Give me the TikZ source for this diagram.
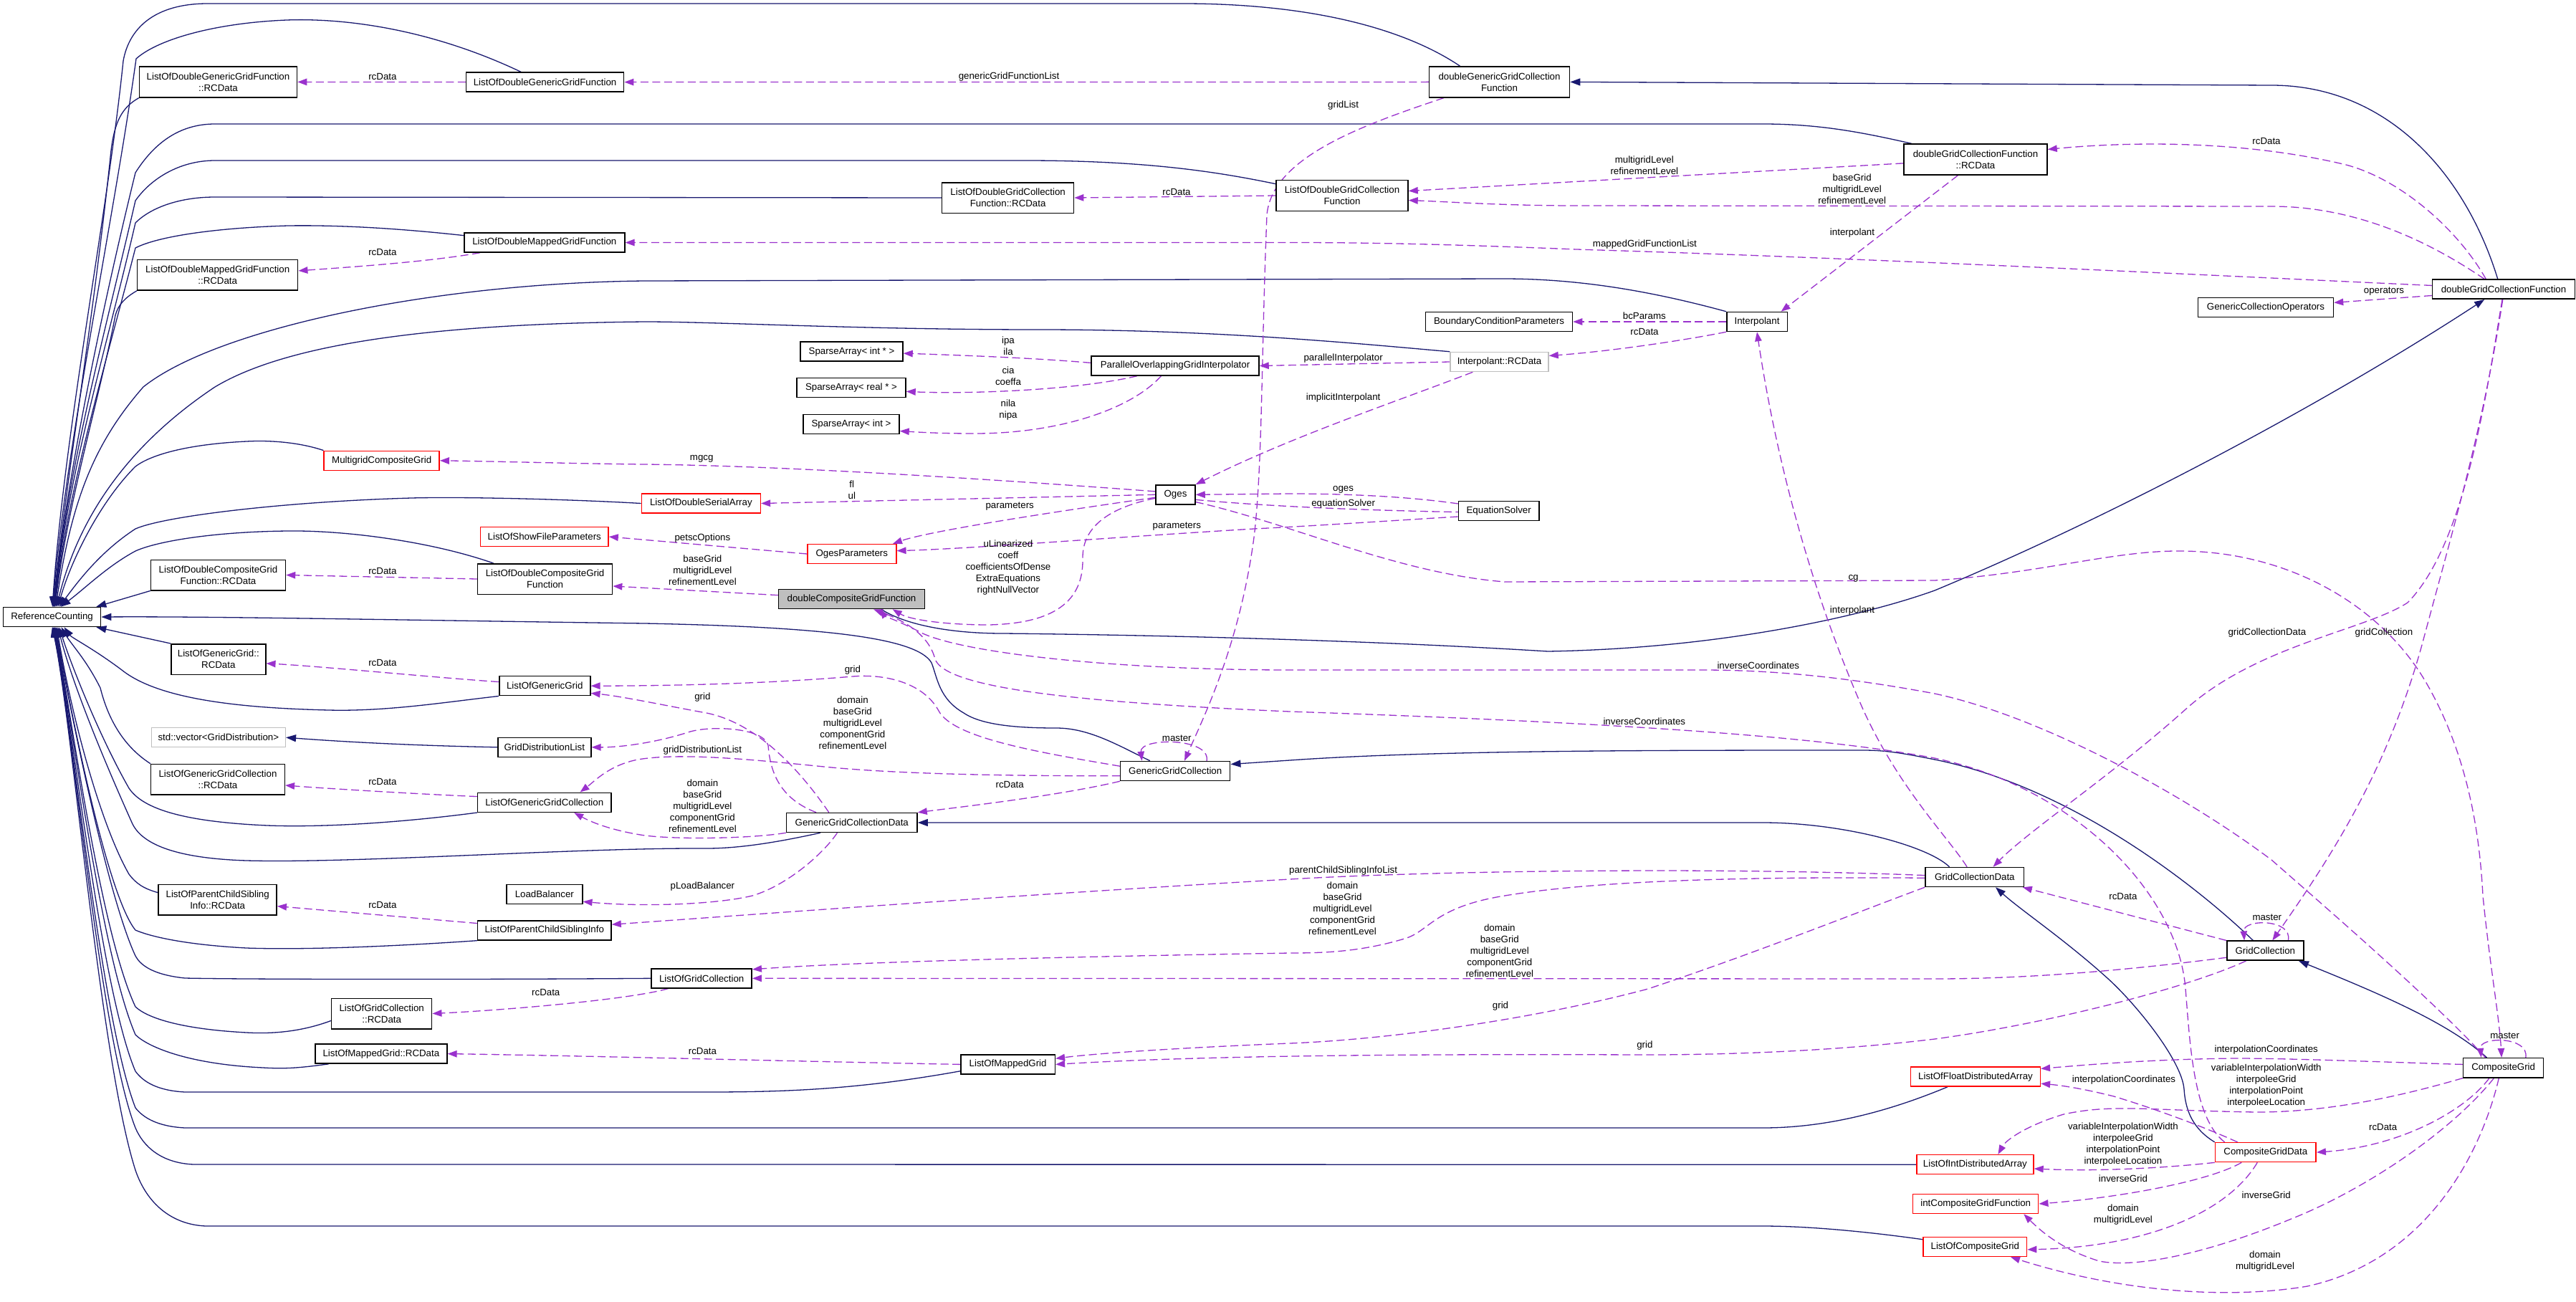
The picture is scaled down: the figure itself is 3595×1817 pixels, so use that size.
\documentclass[tikz,border=0pt]{standalone}
\usepackage{fontspec}
\setmainfont{Liberation Sans}
\usetikzlibrary{arrows.meta}
\definecolor{edgeblue}{HTML}{191970}
\definecolor{edgeorchid}{HTML}{9A32CD}
\definecolor{boxred}{HTML}{FF0000}
\definecolor{boxgrey}{HTML}{BFBFBF}
\newcommand\dxfont{\fontsize{13.3}{16}\selectfont}
\pgfdeclarelayer{back}
\pgfdeclarelayer{edges}
\pgfsetlayers{back,edges,main}
\begin{document}
\begin{tikzpicture}[x=1pt,y=-1pt,
 cls/.style={draw=black,line width=1.5pt,fill=white,font=\dxfont,align=center,inner sep=2pt},
 blackbox/.style={},
 redbox/.style={draw=boxred},
 greybox/.style={draw=boxgrey},
 hilite/.style={fill=boxgrey},
 lab/.style={font=\dxfont,align=center,inner sep=0pt},
 inhedge/.style={draw=edgeblue,line width=1.3pt,-{Triangle[length=14pt,width=10pt]}},
 colledge/.style={draw=edgeorchid,line width=1.3pt,dash pattern=on 11pt off 5.5pt,-{Triangle[length=13pt,width=9.5pt]}}]
\begin{pgfonlayer}{back}
 \path[use as bounding box,fill=white] (0,0) rectangle (3595,1817);
\end{pgfonlayer}
% classes: name/x/y/width/height/style/text
\foreach \nm/\px/\py/\bw/\bh/\bs/\bt in {%
 rc/72.6/861/136/27/blackbox/ReferenceCounting,
 lodggfrc/304.5/114.4/220/43/blackbox/{ListOfDoubleGenericGridFunction\\::RCData},
 lodggf/760.6/114.6/220/27/blackbox/ListOfDoubleGenericGridFunction,
 lodmgf/759.8/338.5/224/27/blackbox/ListOfDoubleMappedGridFunction,
 lodmgfrc/303.7/383.8/224/42.5/blackbox/{ListOfDoubleMappedGridFunction\\::RCData},
 lodgcfrc/1406.6/276/184/42.5/blackbox/{ListOfDoubleGridCollection\\Function::RCData},
 lodgcf/1873/273/184/43/blackbox/{ListOfDoubleGridCollection\\Function},
 spi/1188.5/490.6/143/27/blackbox/{SparseArray< int * >},
 spr/1188/541/152/27/blackbox/{SparseArray< real * >},
 spn/1188/592/134/27/blackbox/{SparseArray< int >},
 pogi/1640/510.5/234/27/blackbox/ParallelOverlappingGridInterpolator,
 dggcf/2092.5/114.4/196/43/blackbox/{doubleGenericGridCollection\\Function},
 dgcfrc/2757/222.6/200/43/blackbox/{doubleGridCollectionFunction\\::RCData},
 bcp/2092/449/205/27/blackbox/BoundaryConditionParameters,
 interp/2452/449/84.5/27/blackbox/Interpolant,
 interprc/2092.5/505/137/27/greybox/Interpolant::RCData,
 gco/3162/429/189/27/blackbox/GenericCollectionOperators,
 dgcf/3494/403.7/199/27/blackbox/doubleGridCollectionFunction,
 mcg/532.7/642.8/161/27/redbox/MultigridCompositeGrid,
 lodsa/978.4/702.5/166/27/redbox/ListOfDoubleSerialArray,
 losfp/759.8/749/178.5/27/redbox/ListOfShowFileParameters,
 lodcgfrc/304.5/802.5/188/42.5/blackbox/{ListOfDoubleCompositeGrid\\Function::RCData},
 lodcgf/760.6/808/188/42.5/blackbox/{ListOfDoubleCompositeGrid\\Function},
 loggrc/304.8/920/132/42.5/blackbox/{ListOfGenericGrid::\\RCData},
 logg/760.3/957.2/127/27/blackbox/ListOfGenericGrid,
 stdvec/304.8/1029.2/187/27/greybox/{std::vector<GridDistribution>},
 gdl/759.8/1042.8/130/27/blackbox/GridDistributionList,
 loggcrc/304/1087.7/186.6/42.5/blackbox/{ListOfGenericGridCollection\\::RCData},
 loggc/759.8/1119.8/186.6/27/blackbox/ListOfGenericGridCollection,
 oges/1640.5/690.3/55/27/blackbox/Oges,
 ogesp/1188.8/773/124/27/redbox/OgesParameters,
 dcgf/1188.5/836/204/27/hilite/doubleCompositeGridFunction,
 ggc/1640.2/1076/153/27/blackbox/GenericGridCollection,
 ggcd/1188.8/1148/182.5/27/blackbox/GenericGridCollectionData,
 eqs/2091.7/713/112.5/27/blackbox/EquationSolver,
 lopcsirc/303.7/1255.9/165/42.5/blackbox/{ListOfParentChildSibling\\Info::RCData},
 lb/759.8/1247.8/106/27/blackbox/LoadBalancer,
 lopcsi/759.8/1298.4/186.5/27/blackbox/ListOfParentChildSiblingInfo,
 logcrc/532.7/1414.5/140/42.5/blackbox/{ListOfGridCollection\\::RCData},
 lomgrc/531.9/1470.6/184/27/blackbox/ListOfMappedGrid::RCData,
 logc/979.2/1365.3/140/27/blackbox/ListOfGridCollection,
 lomg/1406.6/1485.4/131.5/27/blackbox/ListOfMappedGrid,
 gcd/2755.8/1224/137.7/27/blackbox/GridCollectionData,
 gc/3161.3/1326.7/107/27/blackbox/GridCollection,
 cg/3493.7/1490.4/112/27.5/blackbox/CompositeGrid,
 lofda/2757/1502.6/180.7/27/redbox/ListOfFloatDistributedArray,
 loida/2756.4/1625.2/163/27/redbox/ListOfIntDistributedArray,
 icgf/2757.2/1680/175/27/redbox/intCompositeGridFunction,
 locg/2756.3/1740/144.6/27/redbox/ListOfCompositeGrid,
 cgd/3161.8/1608.1/140.7/27/redbox/CompositeGridData}
 {\node[cls,\bs,minimum width=\bw pt,minimum height=\bh pt] (\nm) at (\px,\py) {\bt};}
\foreach \nm/\px/\py/\bt in {%
 l1/533.9/106.6/rcData, l2/1408/106.6/genericGridFunctionList, l3/1874.6/147/gridList,
 l4/533.9/351.8/rcData, l5/1642/267.7/rcData, l6/2294.8/231/{multigridLevel\\refinementLevel},
 l7/2584.7/263.8/{baseGrid\\multigridLevel\\refinementLevel}, l8/3163/196.9/rcData,
 l9/2585/325/interpolant, l10/2295.4/341/mappedGridFunctionList, l11/3327/406.6/operators,
 l12/2294.8/440.9/bcParams, l13/2295/462.6/rcData, l14/1874.6/500/parallelInterpolator,
 l15/1407/482.7/{ipa\\ila}, l16/1407/524.7/{cia\\coeffa}, l17/1407/571.8/{nila\\nipa},
 l18/1874.6/554.9/implicitInterpolant, l19/979.2/640/mgcg, l20/1188.8/683.9/{fl\\ul},
 l21/1409.2/706.6/parameters, l22/1874.6/682.9/oges, l23/1874.6/703.5/equationSolver,
 l24/1642.3/735/parameters, l25/980.4/750.6/petscOptions,
 l26/980.4/795.7/{baseGrid\\multigridLevel\\refinementLevel}, l27/533.9/796.5/rcData,
 l28/1406.9/791.8/{uLinearized\\coeff\\coefficientsOfDense\\ExtraEquations\\rightNullVector},
 l29/2586.5/807/cg, l30/2585/851.7/interpolant, l31/3163.8/882.9/gridCollectionData,
 l32/3326.9/882.9/gridCollection, l33/2453.8/928.8/inverseCoordinates,
 l34/2294.8/1006.6/inverseCoordinates, l35/533.9/925/rcData, l36/1189.9/935.4/grid,
 l37/980.4/972.8/grid,
 l38/1189.9/1008.8/{domain\\baseGrid\\multigridLevel\\componentGrid\\refinementLevel},
 l39/980.4/1046.7/gridDistributionList, l40/1642.3/1030.7/master, l41/1409.2/1095/rcData,
 l42/980.4/1125/{domain\\baseGrid\\multigridLevel\\componentGrid\\refinementLevel},
 l43/533.9/1090.7/rcData, l44/980.4/1236.6/pLoadBalancer, l45/533.9/1262.6/rcData,
 l46/1874.6/1215/parentChildSiblingInfoList,
 l47/1873.5/1267.7/{domain\\baseGrid\\multigridLevel\\componentGrid\\refinementLevel},
 l48/2092.8/1326.7/{domain\\baseGrid\\multigridLevel\\componentGrid\\refinementLevel},
 l49/2094/1403.9/grid, l50/2295.4/1458.6/grid, l51/761.8/1385/rcData, l52/980.4/1466.8/rcData,
 l53/2962.9/1251.2/rcData, l54/3163.8/1280.7/master, l55/3495.6/1444.8/master,
 l56/3162.7/1464.9/interpolationCoordinates,
 l57/3162.7/1514.8/{variableInterpolationWidth\\interpoleeGrid\\interpolationPoint\\interpoleeLocation},
 l58/2964/1506.6/interpolationCoordinates,
 l59/2962.9/1596.7/{variableInterpolationWidth\\interpoleeGrid\\interpolationPoint\\interpoleeLocation},
 l60/3325.7/1572.7/rcData, l61/2962.9/1644.7/inverseGrid, l62/3162.7/1667.5/inverseGrid,
 l63/2962.9/1694.7/{domain\\multigridLevel}, l64/3161/1759.8/{domain\\multigridLevel}}
 {\node[lab] (\nm) at (\px,\py) {\bt};}
\begin{pgfonlayer}{edges}
% inheritance
\draw[inhedge] (dggcf.158) .. controls (1960,40) and (1830,5) .. (1650,5) -- (290,5) .. controls (215,5) and (180,40) .. (172,85) .. controls (150,300) and (90,600) .. (rc.88);
\draw[inhedge] (lodggf.157) .. controls (600,40) and (480,25) .. (400,28) .. controls (300,32) and (220,55) .. (190,82) .. controls (160,300) and (92,620) .. (rc.86);
\draw[inhedge] (lodggfrc.south west) .. controls (170,150) and (160,170) .. (155,210) .. controls (130,450) and (95,650) .. (rc.84);
\draw[inhedge] (dgcfrc.166) .. controls (2600,185) and (2540,173) .. (2460,173) -- (300,173) .. controls (250,173) and (215,200) .. (189,241) .. controls (150,400) and (95,650) .. (rc.82);
\draw[inhedge] (lodgcf.170) .. controls (1700,240) and (1600,224) .. (1430,224) -- (300,224) .. controls (250,224) and (210,250) .. (189,280) .. controls (150,450) and (95,650) .. (rc.80);
\draw[inhedge] (lodgcfrc.west) -- (300,275) .. controls (250,275) and (210,290) .. (189,311) .. controls (150,480) and (95,660) .. (rc.78);
\draw[inhedge] (lodmgf.175) .. controls (550,318) and (470,314) .. (402,315) .. controls (300,318) and (220,330) .. (189,346) .. controls (150,500) and (95,680) .. (rc.76);
\draw[inhedge] (lodmgfrc.south west) .. controls (175,415) and (165,425) .. (161,440) .. controls (140,550) and (95,700) .. (rc.74);
\draw[inhedge] (interp.north west) .. controls (2300,405) and (2200,389) .. (2098,389) -- (900,392) .. controls (600,395) and (300,460) .. (200,540) .. controls (130,620) and (100,700) .. (rc.70);
\draw[inhedge] (interprc.north west) .. controls (1900,480) and (1700,460) .. (1450,460) .. controls (1200,460) and (1000,449) .. (900,449) .. controls (600,452) and (400,480) .. (300,540) .. controls (180,620) and (110,720) .. (rc.66);
\draw[inhedge] (mcg.north west) .. controls (420,618) and (380,614) .. (344,616) .. controls (260,620) and (210,635) .. (189,651) .. controls (140,700) and (100,780) .. (rc.60);
\draw[inhedge] (lodsa.west) .. controls (800,697) and (650,693) .. (574,695) .. controls (400,700) and (230,720) .. (189,738) .. controls (140,770) and (110,810) .. (rc.55);
\draw[inhedge] (lodcgf.163) .. controls (600,755) and (480,740) .. (402,741) .. controls (300,742) and (220,755) .. (189,769) .. controls (150,790) and (120,820) .. (rc.50);
\draw[inhedge] (lodcgfrc.south west) -- (rc.13);
\draw[inhedge] (ggc.158) .. controls (1560,1040) and (1520,1016) .. (1474,1016) .. controls (1420,1016) and (1370,1012) .. (1345,995) .. controls (1310,975) and (1308,945) .. (1300,925) .. controls (1280,890) and (1150,875) .. (900,870) .. controls (600,866) and (300,860) .. (rc.east);
\draw[inhedge] (loggrc.north west) -- (rc.-13);
\draw[inhedge] (logg.south west) .. controls (620,980) and (540,993) .. (459,991) .. controls (330,988) and (220,975) .. (170,935) .. controls (130,905) and (100,890) .. (rc.-40);
\draw[inhedge] (loggcrc.north west) .. controls (170,1040) and (150,1000) .. (140,960) .. controls (120,920) and (100,900) .. (rc.-48);
\draw[inhedge] (loggc.south west) .. controls (560,1148) and (450,1155) .. (373,1152) .. controls (260,1147) and (200,1130) .. (180,1100) .. controls (140,1030) and (100,930) .. (rc.-55);
\draw[inhedge] (ggcd.198) .. controls (1100,1172) and (1040,1184) .. (986,1184) .. controls (800,1183) and (500,1205) .. (344,1201) .. controls (250,1198) and (200,1180) .. (185,1150) .. controls (140,1050) and (100,950) .. (rc.-60);
\draw[inhedge] (lopcsirc.173) .. controls (200,1240) and (190,1233) .. (180,1220) .. controls (140,1150) and (100,1000) .. (rc.-65);
\draw[inhedge] (lopcsi.south west) .. controls (560,1320) and (430,1326) .. (344,1323) .. controls (250,1318) and (205,1305) .. (189,1298) .. controls (150,1250) and (100,1000) .. (rc.-70);
\draw[inhedge] (logc.west) .. controls (700,1367) and (350,1367) .. (258,1365) .. controls (210,1360) and (195,1345) .. (189,1334) .. controls (150,1250) and (100,1000) .. (rc.-73);
\draw[inhedge] (logcrc.188) .. controls (420,1440) and (380,1443) .. (344,1441) .. controls (250,1436) and (205,1420) .. (189,1405) .. controls (140,1300) and (100,1000) .. (rc.-76);
\draw[inhedge] (lomgrc.191) .. controls (420,1490) and (400,1492) .. (367,1490) .. controls (260,1485) and (205,1460) .. (189,1444) .. controls (140,1330) and (100,1000) .. (rc.-79);
\draw[inhedge] (lomg.188) .. controls (1200,1520) and (1100,1524) .. (986,1524) -- (258,1524) .. controls (220,1522) and (200,1510) .. (189,1495) .. controls (140,1380) and (100,1000) .. (rc.-82);
\draw[inhedge] (lofda.200) .. controls (2650,1545) and (2560,1574) .. (2460,1574) -- (258,1574) .. controls (220,1572) and (200,1560) .. (189,1546) .. controls (140,1420) and (100,1000) .. (rc.-85);
\draw[inhedge] (loida.west) -- (270,1625) .. controls (225,1623) and (200,1600) .. (189,1574) .. controls (140,1450) and (100,1000) .. (rc.-87);
\draw[inhedge] (locg.172) .. controls (2600,1718) and (2520,1711) .. (2460,1711) -- (287,1711) .. controls (240,1709) and (205,1680) .. (189,1633) .. controls (140,1480) and (100,1000) .. (rc.-89);
\draw[inhedge] (gdl.west) .. controls (550,1040) and (450,1033) .. (stdvec.east);
\draw[inhedge] (dcgf.-19) .. controls (1260,870) and (1320,884) .. (1400,884) .. controls (1600,886) and (1900,893) .. (2160,909) .. controls (2400,905) and (2600,860) .. (2700,824) .. controls (2950,720) and (3250,560) .. (dgcf.208);
\draw[inhedge] (dgcf.120) .. controls (3440,240) and (3330,119) .. (3170,119) -- (dggcf.east);
\draw[inhedge] (gc.140) .. controls (3080,1250) and (2900,1100) .. (2700,1060) .. controls (2650,1050) and (2630,1047) .. (2600,1047) .. controls (2300,1047) and (2000,1047) .. (1800,1061) -- (ggc.7);
\draw[inhedge] (gcd.158) .. controls (2690,1180) and (2570,1148) .. (2460,1148) -- (ggcd.east);
\draw[inhedge] (cgd.north west) .. controls (3060,1575) and (3050,1550) .. (3048,1520) .. controls (3045,1480) and (2980,1400) .. (2941,1365) .. controls (2880,1310) and (2820,1270) .. (gcd.-26);
\draw[inhedge] (cg.148) .. controls (3420,1430) and (3330,1390) .. (gc.-17);
% members
\draw[colledge] (lodggf.west) -- (lodggfrc.east);
\draw[colledge] (dggcf.west) -- (lodggf.east);
\draw[colledge] (lodmgf.189) .. controls (600,365) and (500,372) .. (lodmgfrc.3);
\draw[colledge] (dgcf.177) .. controls (3100,385) and (2600,360) .. (2200,348) .. controls (2000,340) and (1900,338.5) .. (1800,338.5) -- (lodmgf.east);
\draw[colledge] (lodgcf.west) -- (lodgcfrc.east);
\draw[colledge] (dgcfrc.183) -- (lodgcf.4);
\draw[colledge] (dgcf.152) .. controls (3380,330) and (3280,288) .. (3170,288) -- (2200,287) .. controls (2100,287) and (2030,282) .. (lodgcf.-4);
\draw[colledge] (dgcf.150) .. controls (3430,320) and (3350,250) .. (3274,230) .. controls (3150,200) and (3000,195) .. (dgcfrc.8);
\draw[colledge] (dgcf.185) -- (gco.4);
\draw[colledge] (dgcfrc.222) -- (interp.23);
\draw[colledge] (interp.west) -- (bcp.east);
\draw[colledge] (interp.south west) .. controls (2350,475) and (2250,490) .. (interprc.7);
\draw[colledge] (interprc.west) -- (pogi.east);
\draw[colledge] (pogi.178) .. controls (1450,500) and (1350,496) .. (spi.-2);
\draw[colledge] (pogi.195) .. controls (1500,545) and (1350,550) .. (spr.-4);
\draw[colledge] (pogi.216) .. controls (1580,570) and (1480,605) .. (1360,605) .. controls (1310,605) and (1280,603) .. (spn.-8);
\draw[colledge] (dggcf.196) .. controls (1900,175) and (1775,220) .. (1768,300) .. controls (1760,500) and (1762,650) .. (1750,750) .. controls (1730,900) and (1680,1000) .. (ggc.48);
\draw[colledge] (interprc.201) .. controls (1950,560) and (1800,610) .. (oges.north east);
\draw[colledge] (oges.171) .. controls (1400,670) and (1100,650) .. (900,648) .. controls (800,647) and (700,644) .. (mcg.east);
\draw[colledge] (oges.west) -- (lodsa.east);
\draw[colledge] (oges.188) .. controls (1500,710) and (1300,740) .. (ogesp.14);
\draw[colledge] (eqs.170) .. controls (1980,695) and (1900,689) .. (1800,689) -- (oges.east);
\draw[colledge] (oges.-14) .. controls (1750,705) and (1900,714) .. (eqs.-3);
\draw[colledge] (eqs.188) .. controls (1950,726) and (1850,733) .. (1750,738) .. controls (1550,750) and (1350,766) .. (ogesp.4);
\draw[colledge] (ogesp.west) -- (losfp.east);
\draw[colledge] (dcgf.177) -- (lodcgf.-6);
\draw[colledge] (lodcgf.west) -- (lodcgfrc.east);
\draw[colledge] (oges.190) .. controls (1540,710) and (1510,740) .. (1511,780) .. controls (1512,840) and (1470,870) .. (1380,872) .. controls (1320,872) and (1270,865) .. (dcgf.-14);
\draw[colledge] (cg.150) .. controls (3400,1400) and (3250,1270) .. (3170,1200) .. controls (3050,1110) and (2850,1000) .. (2700,968) .. controls (2550,940) and (2450,935) .. (2374,935) -- (1800,935) .. controls (1550,935) and (1330,910) .. (1280,880) .. controls (1250,865) and (1235,860) .. (dcgf.-20);
\draw[colledge] (cgd.166) .. controls (3060,1560) and (3056,1450) .. (3050,1380) .. controls (3040,1250) and (2900,1100) .. (2700,1058) .. controls (2550,1030) and (2300,1010) .. (1800,993) .. controls (1500,980) and (1320,960) .. (1305,920) .. controls (1295,880) and (1250,862) .. (dcgf.-25);
\draw[colledge] (oges.-20) .. controls (1800,730) and (1950,800) .. (2100,812) -- (2700,810) .. controls (2850,800) and (2950,768) .. (3044,769) .. controls (3200,770) and (3330,850) .. (3390,960) .. controls (3440,1050) and (3460,1150) .. (3465,1250) .. controls (3475,1350) and (3488,1420) .. (cg.100);
\draw[colledge] (gcd.127) .. controls (2720,1170) and (2650,1100) .. (2600,990) .. controls (2530,830) and (2480,650) .. (interp.south);
\draw[colledge] (dgcf.-98) .. controls (3470,550) and (3440,760) .. (3360,841) .. controls (3300,880) and (3150,900) .. (3050,990) .. controls (2950,1080) and (2830,1160) .. (gcd.29);
\draw[colledge] (dgcf.-95) .. controls (3465,600) and (3420,750) .. (3380,900) .. controls (3330,1080) and (3250,1200) .. (gc.55);
\draw[colledge] (gc.north west) -- (gcd.-12);
\draw[colledge] (gc.24) .. controls (3200,1282) and (3130,1282) .. (gc.154);
\draw[colledge] (cg.25) .. controls (3530,1446) and (3460,1446) .. (cg.155);
\draw[colledge] (ggc.18) .. controls (1690,1029) and (1590,1029) .. (ggc.163);
\draw[colledge] (ggc.south west) .. controls (1480,1110) and (1350,1125) .. (ggcd.north east);
\draw[colledge] (ggc.175) .. controls (1450,1050) and (1330,1030) .. (1310,992) .. controls (1290,955) and (1240,940) .. (1190,944) .. controls (1120,950) and (1000,957) .. (logg.east);
\draw[colledge] (ggcd.156) .. controls (1120,1080) and (1060,1010) .. (986,995) .. controls (930,985) and (870,972) .. (logg.-9);
\draw[colledge] (ggcd.164) .. controls (1090,1115) and (1075,1080) .. (1072,1040) .. controls (1065,1015) and (990,1012) .. (960,1022) .. controls (920,1035) and (870,1043) .. (gdl.east);
\draw[colledge] (ggc.185) .. controls (1400,1083) and (1250,1080) .. (1150,1070) .. controls (1050,1060) and (950,1050) .. (890,1060) .. controls (850,1068) and (830,1090) .. (loggc.16);
\draw[colledge] (ggcd.south west) .. controls (1050,1170) and (950,1172) .. (900,1166) .. controls (860,1160) and (830,1150) .. (loggc.-19);
\draw[colledge] (ggcd.215) .. controls (1150,1190) and (1100,1235) .. (1050,1250) .. controls (1000,1262) and (900,1266) .. (lb.-11);
\draw[colledge] (logg.175) .. controls (600,945) and (450,930) .. (loggrc.-5);
\draw[colledge] (loggc.175) .. controls (580,1108) and (450,1100) .. (loggcrc.-5);
\draw[colledge] (lopcsi.174) -- (lopcsirc.-6);
\draw[colledge] (gcd.178) .. controls (2400,1210) and (2000,1215) .. (1800,1227) .. controls (1400,1250) and (1000,1280) .. (lopcsi.5);
\draw[colledge] (gcd.181) .. controls (2500,1224) and (2250,1225) .. (2100,1250) .. controls (2000,1266) and (1995,1300) .. (1960,1310) .. controls (1900,1328) and (1850,1330) .. (1800,1330) .. controls (1500,1335) and (1200,1342) .. (logc.10);
\draw[colledge] (gc.190) .. controls (3000,1350) and (2850,1366) .. (2700,1366) -- (logc.east);
\draw[colledge] (gcd.south west) .. controls (2600,1270) and (2450,1330) .. (2300,1380) .. controls (2150,1420) and (1950,1450) .. (1800,1456) .. controls (1650,1462) and (1530,1470) .. (lomg.7);
\draw[colledge] (gc.208) .. controls (3050,1380) and (2850,1430) .. (2700,1450) .. controls (2550,1468) and (2400,1472) .. (2295,1472) .. controls (2000,1471) and (1700,1472) .. (lomg.east);
\draw[colledge] (lomg.west) .. controls (1100,1481) and (800,1473) .. (lomgrc.east);
\draw[colledge] (logc.197) .. controls (880,1395) and (700,1410) .. (logcrc.east);
\draw[colledge] (cg.175) .. controls (3320,1482) and (3200,1477) .. (3120,1477) .. controls (3000,1478) and (2900,1487) .. (lofda.7);
\draw[colledge] (cgd.160) .. controls (3070,1570) and (3000,1545) .. (2950,1530) .. controls (2910,1520) and (2880,1515) .. (lofda.-6);
\draw[colledge] (cg.194) .. controls (3350,1530) and (3250,1552) .. (3150,1552) .. controls (3000,1550) and (2950,1540) .. (2880,1555) .. controls (2830,1570) and (2800,1590) .. (loida.24);
\draw[colledge] (cgd.south west) .. controls (3020,1630) and (2930,1635) .. (loida.-4);
\draw[colledge] (cg.216) .. controls (3440,1550) and (3350,1600) .. (cgd.east);
\draw[colledge] (cgd.203) .. controls (3080,1650) and (2950,1672) .. (icgf.east);
\draw[colledge] (cg.227) .. controls (3420,1580) and (3300,1660) .. (3200,1700) .. controls (3080,1750) and (2980,1770) .. (2930,1760) .. controls (2880,1745) and (2850,1720) .. (icgf.-12);
\draw[colledge] (cgd.231) .. controls (3110,1690) and (3000,1740) .. (locg.-3);
\draw[colledge] (cg.246) .. controls (3460,1620) and (3380,1760) .. (3220,1795) .. controls (3100,1815) and (2950,1800) .. (locg.-16);
\end{pgfonlayer}
\end{tikzpicture}
\end{document}
